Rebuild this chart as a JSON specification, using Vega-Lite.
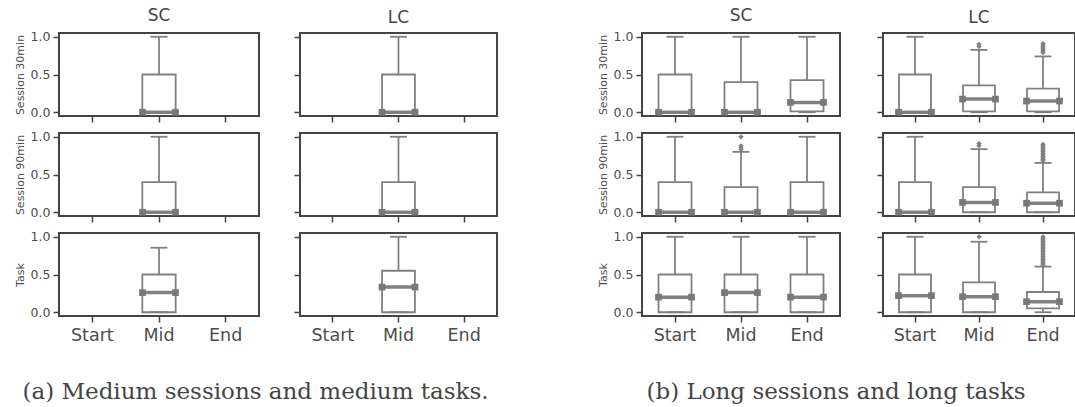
{
"$schema":"https://vega.github.io/schema/vega-lite/v6.json",
"padding":{"left":13,"top":5,"right":0,"bottom":0},
"data":{"values":[
{"p":"a-SC-1","pos":"Mid","lo":0,"q1":0,"med":0,"q3":0.5,"hi":1},
{"p":"a-LC-1","pos":"Mid","lo":0,"q1":0,"med":0,"q3":0.5,"hi":1},
{"p":"a-SC-2","pos":"Mid","lo":0,"q1":0,"med":0,"q3":0.4,"hi":1},
{"p":"a-LC-2","pos":"Mid","lo":0,"q1":0,"med":0,"q3":0.4,"hi":1},
{"p":"a-SC-3","pos":"Mid","lo":0,"q1":0,"med":0.26,"q3":0.5,"hi":0.855},
{"p":"a-LC-3","pos":"Mid","lo":0,"q1":0,"med":0.333,"q3":0.55,"hi":1},
{"p":"b-SC-1","pos":"Start","lo":0,"q1":0,"med":0,"q3":0.5,"hi":1},
{"p":"b-SC-1","pos":"Mid","lo":0,"q1":0,"med":0,"q3":0.4,"hi":1},
{"p":"b-SC-1","pos":"End","lo":0,"q1":0.01,"med":0.13,"q3":0.425,"hi":1},
{"p":"b-LC-1","pos":"Start","lo":0,"q1":0,"med":0,"q3":0.5,"hi":1},
{"p":"b-LC-1","pos":"Mid","lo":0,"q1":0.01,"med":0.174,"q3":0.357,"hi":0.826},
{"p":"b-LC-1","pos":"End","lo":0,"q1":0.01,"med":0.148,"q3":0.313,"hi":0.74},
{"p":"b-SC-2","pos":"Start","lo":0,"q1":0,"med":0,"q3":0.4,"hi":1},
{"p":"b-SC-2","pos":"Mid","lo":0,"q1":0,"med":0,"q3":0.333,"hi":0.8},
{"p":"b-SC-2","pos":"End","lo":0,"q1":0,"med":0,"q3":0.4,"hi":1},
{"p":"b-LC-2","pos":"Start","lo":0,"q1":0,"med":0,"q3":0.4,"hi":1},
{"p":"b-LC-2","pos":"Mid","lo":0,"q1":0,"med":0.13,"q3":0.333,"hi":0.836},
{"p":"b-LC-2","pos":"End","lo":0,"q1":0,"med":0.12,"q3":0.262,"hi":0.653},
{"p":"b-SC-3","pos":"Start","lo":0,"q1":0,"med":0.2,"q3":0.5,"hi":1},
{"p":"b-SC-3","pos":"Mid","lo":0,"q1":0,"med":0.26,"q3":0.5,"hi":1},
{"p":"b-SC-3","pos":"End","lo":0,"q1":0,"med":0.2,"q3":0.5,"hi":1},
{"p":"b-LC-3","pos":"Start","lo":0,"q1":0,"med":0.22,"q3":0.5,"hi":1},
{"p":"b-LC-3","pos":"Mid","lo":0,"q1":0,"med":0.206,"q3":0.395,"hi":0.934},
{"p":"b-LC-3","pos":"End","lo":0,"q1":0.05,"med":0.14,"q3":0.268,"hi":0.605},
{"p":"b-LC-1","pos":"Mid","v":0.87},{"p":"b-LC-1","pos":"Mid","v":0.9},
{"p":"b-LC-1","pos":"End","v":0.79},{"p":"b-LC-1","pos":"End","v":0.81},{"p":"b-LC-1","pos":"End","v":0.83},{"p":"b-LC-1","pos":"End","v":0.85},{"p":"b-LC-1","pos":"End","v":0.87},{"p":"b-LC-1","pos":"End","v":0.89},{"p":"b-LC-1","pos":"End","v":0.91},
{"p":"b-SC-2","pos":"Mid","v":0.83},{"p":"b-SC-2","pos":"Mid","v":0.86},{"p":"b-SC-2","pos":"Mid","v":0.88},{"p":"b-SC-2","pos":"Mid","v":1.0},
{"p":"b-LC-2","pos":"Mid","v":0.88},{"p":"b-LC-2","pos":"Mid","v":0.91},
{"p":"b-LC-2","pos":"End","v":0.68},{"p":"b-LC-2","pos":"End","v":0.7},{"p":"b-LC-2","pos":"End","v":0.72},{"p":"b-LC-2","pos":"End","v":0.74},{"p":"b-LC-2","pos":"End","v":0.76},{"p":"b-LC-2","pos":"End","v":0.78},{"p":"b-LC-2","pos":"End","v":0.8},{"p":"b-LC-2","pos":"End","v":0.82},{"p":"b-LC-2","pos":"End","v":0.84},{"p":"b-LC-2","pos":"End","v":0.86},{"p":"b-LC-2","pos":"End","v":0.88},{"p":"b-LC-2","pos":"End","v":0.9},
{"p":"b-LC-3","pos":"Mid","v":1.0},
{"p":"b-LC-3","pos":"End","v":0.62},{"p":"b-LC-3","pos":"End","v":0.64},{"p":"b-LC-3","pos":"End","v":0.66},{"p":"b-LC-3","pos":"End","v":0.68},{"p":"b-LC-3","pos":"End","v":0.7},{"p":"b-LC-3","pos":"End","v":0.72},{"p":"b-LC-3","pos":"End","v":0.74},{"p":"b-LC-3","pos":"End","v":0.76},{"p":"b-LC-3","pos":"End","v":0.78},{"p":"b-LC-3","pos":"End","v":0.8},{"p":"b-LC-3","pos":"End","v":0.82},{"p":"b-LC-3","pos":"End","v":0.84},{"p":"b-LC-3","pos":"End","v":0.86},{"p":"b-LC-3","pos":"End","v":0.88},{"p":"b-LC-3","pos":"End","v":0.9},{"p":"b-LC-3","pos":"End","v":0.92},{"p":"b-LC-3","pos":"End","v":0.94},{"p":"b-LC-3","pos":"End","v":0.96},{"p":"b-LC-3","pos":"End","v":0.98},{"p":"b-LC-3","pos":"End","v":1.0}
]},
"spacing":98,
"hconcat":[
{"columns":2,"spacing":{"row":5,"column":32},
"title":{"text":"(a) Medium sessions and medium tasks.","orient":"bottom","anchor":"middle","font":"DejaVu Serif","fontSize":23,"fontWeight":"normal","color":"#444","offset":36},
"concat":[
{"width":200,"height":83,"title":{"text":"SC","fontSize":17,"font":"DejaVu Sans","fontWeight":"normal","color":"#444","offset":6},"transform":[{"filter":"datum.p==='a-SC-1'"}],
"encoding":{"x":{"field":"pos","type":"nominal","sort":null,"title":null,"scale":{"type":"band","domain":["Start","Mid","End"],"paddingInner":0.5,"paddingOuter":0.25},"axis":{"labels":false}}},
"layer":[
{"mark":{"type":"rule","color":"#808080","strokeWidth":1.8},"encoding":{"y":{"field":"q3","type":"quantitative","scale":{"domain":[-0.05,1.05],"nice":false,"zero":false},"axis":{"values":[0,0.5,1],"format":".1f","title":"Session 30min"}},"y2":{"field":"hi"}}},
{"mark":{"type":"rule","color":"#808080","strokeWidth":1.8},"encoding":{"y":{"field":"lo","type":"quantitative","scale":{"domain":[-0.05,1.05],"nice":false,"zero":false}},"y2":{"field":"q1"}}},
{"mark":{"type":"bar","fill":"white","stroke":"#808080","strokeWidth":1.8},"encoding":{"y":{"field":"q1","type":"quantitative","scale":{"domain":[-0.05,1.05],"nice":false,"zero":false}},"y2":{"field":"q3"}}},
{"mark":{"type":"tick","color":"#808080","opacity":1,"size":17,"thickness":1.8},"encoding":{"y":{"field":"hi","type":"quantitative","scale":{"domain":[-0.05,1.05],"nice":false,"zero":false}}}},
{"mark":{"type":"tick","color":"#808080","opacity":1,"size":17,"thickness":1.8},"encoding":{"y":{"field":"lo","type":"quantitative","scale":{"domain":[-0.05,1.05],"nice":false,"zero":false}}}},
{"mark":{"type":"tick","color":"#808080","opacity":1,"size":33,"thickness":3.5},"encoding":{"y":{"field":"med","type":"quantitative","scale":{"domain":[-0.05,1.05],"nice":false,"zero":false}}}},
{"mark":{"type":"point","shape":"square","filled":true,"opacity":1,"size":45,"color":"#787878","xOffset":-16.5},"encoding":{"y":{"field":"med","type":"quantitative","scale":{"domain":[-0.05,1.05],"nice":false,"zero":false}}}},
{"mark":{"type":"point","shape":"square","filled":true,"opacity":1,"size":45,"color":"#787878","xOffset":16.5},"encoding":{"y":{"field":"med","type":"quantitative","scale":{"domain":[-0.05,1.05],"nice":false,"zero":false}}}},
{"mark":{"type":"point","shape":"diamond","filled":true,"opacity":1,"size":28,"color":"#808080"},"encoding":{"y":{"field":"v","type":"quantitative","scale":{"domain":[-0.05,1.05],"nice":false,"zero":false}}}}
]},
{"width":197,"height":83,"title":{"text":"LC","fontSize":17,"font":"DejaVu Sans","fontWeight":"normal","color":"#444","offset":6},"transform":[{"filter":"datum.p==='a-LC-1'"}],
"encoding":{"x":{"field":"pos","type":"nominal","sort":null,"title":null,"scale":{"type":"band","domain":["Start","Mid","End"],"paddingInner":0.5,"paddingOuter":0.25},"axis":{"labels":false}}},
"layer":[
{"mark":{"type":"rule","color":"#808080","strokeWidth":1.8},"encoding":{"y":{"field":"q3","type":"quantitative","scale":{"domain":[-0.05,1.05],"nice":false,"zero":false},"axis":{"values":[0,0.5,1],"labels":false,"title":null}},"y2":{"field":"hi"}}},
{"mark":{"type":"rule","color":"#808080","strokeWidth":1.8},"encoding":{"y":{"field":"lo","type":"quantitative","scale":{"domain":[-0.05,1.05],"nice":false,"zero":false}},"y2":{"field":"q1"}}},
{"mark":{"type":"bar","fill":"white","stroke":"#808080","strokeWidth":1.8},"encoding":{"y":{"field":"q1","type":"quantitative","scale":{"domain":[-0.05,1.05],"nice":false,"zero":false}},"y2":{"field":"q3"}}},
{"mark":{"type":"tick","color":"#808080","opacity":1,"size":17,"thickness":1.8},"encoding":{"y":{"field":"hi","type":"quantitative","scale":{"domain":[-0.05,1.05],"nice":false,"zero":false}}}},
{"mark":{"type":"tick","color":"#808080","opacity":1,"size":17,"thickness":1.8},"encoding":{"y":{"field":"lo","type":"quantitative","scale":{"domain":[-0.05,1.05],"nice":false,"zero":false}}}},
{"mark":{"type":"tick","color":"#808080","opacity":1,"size":33,"thickness":3.5},"encoding":{"y":{"field":"med","type":"quantitative","scale":{"domain":[-0.05,1.05],"nice":false,"zero":false}}}},
{"mark":{"type":"point","shape":"square","filled":true,"opacity":1,"size":45,"color":"#787878","xOffset":-16.5},"encoding":{"y":{"field":"med","type":"quantitative","scale":{"domain":[-0.05,1.05],"nice":false,"zero":false}}}},
{"mark":{"type":"point","shape":"square","filled":true,"opacity":1,"size":45,"color":"#787878","xOffset":16.5},"encoding":{"y":{"field":"med","type":"quantitative","scale":{"domain":[-0.05,1.05],"nice":false,"zero":false}}}},
{"mark":{"type":"point","shape":"diamond","filled":true,"opacity":1,"size":28,"color":"#808080"},"encoding":{"y":{"field":"v","type":"quantitative","scale":{"domain":[-0.05,1.05],"nice":false,"zero":false}}}}
]},
{"width":200,"height":83,"transform":[{"filter":"datum.p==='a-SC-2'"}],
"encoding":{"x":{"field":"pos","type":"nominal","sort":null,"title":null,"scale":{"type":"band","domain":["Start","Mid","End"],"paddingInner":0.5,"paddingOuter":0.25},"axis":{"labels":false}}},
"layer":[
{"mark":{"type":"rule","color":"#808080","strokeWidth":1.8},"encoding":{"y":{"field":"q3","type":"quantitative","scale":{"domain":[-0.05,1.05],"nice":false,"zero":false},"axis":{"values":[0,0.5,1],"format":".1f","title":"Session 90min"}},"y2":{"field":"hi"}}},
{"mark":{"type":"rule","color":"#808080","strokeWidth":1.8},"encoding":{"y":{"field":"lo","type":"quantitative","scale":{"domain":[-0.05,1.05],"nice":false,"zero":false}},"y2":{"field":"q1"}}},
{"mark":{"type":"bar","fill":"white","stroke":"#808080","strokeWidth":1.8},"encoding":{"y":{"field":"q1","type":"quantitative","scale":{"domain":[-0.05,1.05],"nice":false,"zero":false}},"y2":{"field":"q3"}}},
{"mark":{"type":"tick","color":"#808080","opacity":1,"size":17,"thickness":1.8},"encoding":{"y":{"field":"hi","type":"quantitative","scale":{"domain":[-0.05,1.05],"nice":false,"zero":false}}}},
{"mark":{"type":"tick","color":"#808080","opacity":1,"size":17,"thickness":1.8},"encoding":{"y":{"field":"lo","type":"quantitative","scale":{"domain":[-0.05,1.05],"nice":false,"zero":false}}}},
{"mark":{"type":"tick","color":"#808080","opacity":1,"size":33,"thickness":3.5},"encoding":{"y":{"field":"med","type":"quantitative","scale":{"domain":[-0.05,1.05],"nice":false,"zero":false}}}},
{"mark":{"type":"point","shape":"square","filled":true,"opacity":1,"size":45,"color":"#787878","xOffset":-16.5},"encoding":{"y":{"field":"med","type":"quantitative","scale":{"domain":[-0.05,1.05],"nice":false,"zero":false}}}},
{"mark":{"type":"point","shape":"square","filled":true,"opacity":1,"size":45,"color":"#787878","xOffset":16.5},"encoding":{"y":{"field":"med","type":"quantitative","scale":{"domain":[-0.05,1.05],"nice":false,"zero":false}}}},
{"mark":{"type":"point","shape":"diamond","filled":true,"opacity":1,"size":28,"color":"#808080"},"encoding":{"y":{"field":"v","type":"quantitative","scale":{"domain":[-0.05,1.05],"nice":false,"zero":false}}}}
]},
{"width":197,"height":83,"transform":[{"filter":"datum.p==='a-LC-2'"}],
"encoding":{"x":{"field":"pos","type":"nominal","sort":null,"title":null,"scale":{"type":"band","domain":["Start","Mid","End"],"paddingInner":0.5,"paddingOuter":0.25},"axis":{"labels":false}}},
"layer":[
{"mark":{"type":"rule","color":"#808080","strokeWidth":1.8},"encoding":{"y":{"field":"q3","type":"quantitative","scale":{"domain":[-0.05,1.05],"nice":false,"zero":false},"axis":{"values":[0,0.5,1],"labels":false,"title":null}},"y2":{"field":"hi"}}},
{"mark":{"type":"rule","color":"#808080","strokeWidth":1.8},"encoding":{"y":{"field":"lo","type":"quantitative","scale":{"domain":[-0.05,1.05],"nice":false,"zero":false}},"y2":{"field":"q1"}}},
{"mark":{"type":"bar","fill":"white","stroke":"#808080","strokeWidth":1.8},"encoding":{"y":{"field":"q1","type":"quantitative","scale":{"domain":[-0.05,1.05],"nice":false,"zero":false}},"y2":{"field":"q3"}}},
{"mark":{"type":"tick","color":"#808080","opacity":1,"size":17,"thickness":1.8},"encoding":{"y":{"field":"hi","type":"quantitative","scale":{"domain":[-0.05,1.05],"nice":false,"zero":false}}}},
{"mark":{"type":"tick","color":"#808080","opacity":1,"size":17,"thickness":1.8},"encoding":{"y":{"field":"lo","type":"quantitative","scale":{"domain":[-0.05,1.05],"nice":false,"zero":false}}}},
{"mark":{"type":"tick","color":"#808080","opacity":1,"size":33,"thickness":3.5},"encoding":{"y":{"field":"med","type":"quantitative","scale":{"domain":[-0.05,1.05],"nice":false,"zero":false}}}},
{"mark":{"type":"point","shape":"square","filled":true,"opacity":1,"size":45,"color":"#787878","xOffset":-16.5},"encoding":{"y":{"field":"med","type":"quantitative","scale":{"domain":[-0.05,1.05],"nice":false,"zero":false}}}},
{"mark":{"type":"point","shape":"square","filled":true,"opacity":1,"size":45,"color":"#787878","xOffset":16.5},"encoding":{"y":{"field":"med","type":"quantitative","scale":{"domain":[-0.05,1.05],"nice":false,"zero":false}}}},
{"mark":{"type":"point","shape":"diamond","filled":true,"opacity":1,"size":28,"color":"#808080"},"encoding":{"y":{"field":"v","type":"quantitative","scale":{"domain":[-0.05,1.05],"nice":false,"zero":false}}}}
]},
{"width":200,"height":83,"transform":[{"filter":"datum.p==='a-SC-3'"}],
"encoding":{"x":{"field":"pos","type":"nominal","sort":null,"title":null,"scale":{"type":"band","domain":["Start","Mid","End"],"paddingInner":0.5,"paddingOuter":0.25},"axis":{"labels":true}}},
"layer":[
{"mark":{"type":"rule","color":"#808080","strokeWidth":1.8},"encoding":{"y":{"field":"q3","type":"quantitative","scale":{"domain":[-0.05,1.05],"nice":false,"zero":false},"axis":{"values":[0,0.5,1],"format":".1f","title":"Task"}},"y2":{"field":"hi"}}},
{"mark":{"type":"rule","color":"#808080","strokeWidth":1.8},"encoding":{"y":{"field":"lo","type":"quantitative","scale":{"domain":[-0.05,1.05],"nice":false,"zero":false}},"y2":{"field":"q1"}}},
{"mark":{"type":"bar","fill":"white","stroke":"#808080","strokeWidth":1.8},"encoding":{"y":{"field":"q1","type":"quantitative","scale":{"domain":[-0.05,1.05],"nice":false,"zero":false}},"y2":{"field":"q3"}}},
{"mark":{"type":"tick","color":"#808080","opacity":1,"size":17,"thickness":1.8},"encoding":{"y":{"field":"hi","type":"quantitative","scale":{"domain":[-0.05,1.05],"nice":false,"zero":false}}}},
{"mark":{"type":"tick","color":"#808080","opacity":1,"size":17,"thickness":1.8},"encoding":{"y":{"field":"lo","type":"quantitative","scale":{"domain":[-0.05,1.05],"nice":false,"zero":false}}}},
{"mark":{"type":"tick","color":"#808080","opacity":1,"size":33,"thickness":3.5},"encoding":{"y":{"field":"med","type":"quantitative","scale":{"domain":[-0.05,1.05],"nice":false,"zero":false}}}},
{"mark":{"type":"point","shape":"square","filled":true,"opacity":1,"size":45,"color":"#787878","xOffset":-16.5},"encoding":{"y":{"field":"med","type":"quantitative","scale":{"domain":[-0.05,1.05],"nice":false,"zero":false}}}},
{"mark":{"type":"point","shape":"square","filled":true,"opacity":1,"size":45,"color":"#787878","xOffset":16.5},"encoding":{"y":{"field":"med","type":"quantitative","scale":{"domain":[-0.05,1.05],"nice":false,"zero":false}}}},
{"mark":{"type":"point","shape":"diamond","filled":true,"opacity":1,"size":28,"color":"#808080"},"encoding":{"y":{"field":"v","type":"quantitative","scale":{"domain":[-0.05,1.05],"nice":false,"zero":false}}}}
]},
{"width":197,"height":83,"transform":[{"filter":"datum.p==='a-LC-3'"}],
"encoding":{"x":{"field":"pos","type":"nominal","sort":null,"title":null,"scale":{"type":"band","domain":["Start","Mid","End"],"paddingInner":0.5,"paddingOuter":0.25},"axis":{"labels":true}}},
"layer":[
{"mark":{"type":"rule","color":"#808080","strokeWidth":1.8},"encoding":{"y":{"field":"q3","type":"quantitative","scale":{"domain":[-0.05,1.05],"nice":false,"zero":false},"axis":{"values":[0,0.5,1],"labels":false,"title":null}},"y2":{"field":"hi"}}},
{"mark":{"type":"rule","color":"#808080","strokeWidth":1.8},"encoding":{"y":{"field":"lo","type":"quantitative","scale":{"domain":[-0.05,1.05],"nice":false,"zero":false}},"y2":{"field":"q1"}}},
{"mark":{"type":"bar","fill":"white","stroke":"#808080","strokeWidth":1.8},"encoding":{"y":{"field":"q1","type":"quantitative","scale":{"domain":[-0.05,1.05],"nice":false,"zero":false}},"y2":{"field":"q3"}}},
{"mark":{"type":"tick","color":"#808080","opacity":1,"size":17,"thickness":1.8},"encoding":{"y":{"field":"hi","type":"quantitative","scale":{"domain":[-0.05,1.05],"nice":false,"zero":false}}}},
{"mark":{"type":"tick","color":"#808080","opacity":1,"size":17,"thickness":1.8},"encoding":{"y":{"field":"lo","type":"quantitative","scale":{"domain":[-0.05,1.05],"nice":false,"zero":false}}}},
{"mark":{"type":"tick","color":"#808080","opacity":1,"size":33,"thickness":3.5},"encoding":{"y":{"field":"med","type":"quantitative","scale":{"domain":[-0.05,1.05],"nice":false,"zero":false}}}},
{"mark":{"type":"point","shape":"square","filled":true,"opacity":1,"size":45,"color":"#787878","xOffset":-16.5},"encoding":{"y":{"field":"med","type":"quantitative","scale":{"domain":[-0.05,1.05],"nice":false,"zero":false}}}},
{"mark":{"type":"point","shape":"square","filled":true,"opacity":1,"size":45,"color":"#787878","xOffset":16.5},"encoding":{"y":{"field":"med","type":"quantitative","scale":{"domain":[-0.05,1.05],"nice":false,"zero":false}}}},
{"mark":{"type":"point","shape":"diamond","filled":true,"opacity":1,"size":28,"color":"#808080"},"encoding":{"y":{"field":"v","type":"quantitative","scale":{"domain":[-0.05,1.05],"nice":false,"zero":false}}}}
]}
]},
{"columns":2,"spacing":{"row":5,"column":34},
"title":{"text":"(b) Long sessions and long tasks","orient":"bottom","anchor":"middle","font":"DejaVu Serif","fontSize":23,"fontWeight":"normal","color":"#444","offset":36},
"concat":[
{"width":198,"height":83,"title":{"text":"SC","fontSize":17,"font":"DejaVu Sans","fontWeight":"normal","color":"#444","offset":6},"transform":[{"filter":"datum.p==='b-SC-1'"}],
"encoding":{"x":{"field":"pos","type":"nominal","sort":null,"title":null,"scale":{"type":"band","domain":["Start","Mid","End"],"paddingInner":0.5,"paddingOuter":0.25},"axis":{"labels":false}}},
"layer":[
{"mark":{"type":"rule","color":"#808080","strokeWidth":1.8},"encoding":{"y":{"field":"q3","type":"quantitative","scale":{"domain":[-0.05,1.05],"nice":false,"zero":false},"axis":{"values":[0,0.5,1],"format":".1f","title":"Session 30min"}},"y2":{"field":"hi"}}},
{"mark":{"type":"rule","color":"#808080","strokeWidth":1.8},"encoding":{"y":{"field":"lo","type":"quantitative","scale":{"domain":[-0.05,1.05],"nice":false,"zero":false}},"y2":{"field":"q1"}}},
{"mark":{"type":"bar","fill":"white","stroke":"#808080","strokeWidth":1.8},"encoding":{"y":{"field":"q1","type":"quantitative","scale":{"domain":[-0.05,1.05],"nice":false,"zero":false}},"y2":{"field":"q3"}}},
{"mark":{"type":"tick","color":"#808080","opacity":1,"size":17,"thickness":1.8},"encoding":{"y":{"field":"hi","type":"quantitative","scale":{"domain":[-0.05,1.05],"nice":false,"zero":false}}}},
{"mark":{"type":"tick","color":"#808080","opacity":1,"size":17,"thickness":1.8},"encoding":{"y":{"field":"lo","type":"quantitative","scale":{"domain":[-0.05,1.05],"nice":false,"zero":false}}}},
{"mark":{"type":"tick","color":"#808080","opacity":1,"size":33,"thickness":3.5},"encoding":{"y":{"field":"med","type":"quantitative","scale":{"domain":[-0.05,1.05],"nice":false,"zero":false}}}},
{"mark":{"type":"point","shape":"square","filled":true,"opacity":1,"size":45,"color":"#787878","xOffset":-16.5},"encoding":{"y":{"field":"med","type":"quantitative","scale":{"domain":[-0.05,1.05],"nice":false,"zero":false}}}},
{"mark":{"type":"point","shape":"square","filled":true,"opacity":1,"size":45,"color":"#787878","xOffset":16.5},"encoding":{"y":{"field":"med","type":"quantitative","scale":{"domain":[-0.05,1.05],"nice":false,"zero":false}}}},
{"mark":{"type":"point","shape":"diamond","filled":true,"opacity":1,"size":28,"color":"#808080"},"encoding":{"y":{"field":"v","type":"quantitative","scale":{"domain":[-0.05,1.05],"nice":false,"zero":false}}}}
]},
{"width":192,"height":83,"title":{"text":"LC","fontSize":17,"font":"DejaVu Sans","fontWeight":"normal","color":"#444","offset":6},"transform":[{"filter":"datum.p==='b-LC-1'"}],
"encoding":{"x":{"field":"pos","type":"nominal","sort":null,"title":null,"scale":{"type":"band","domain":["Start","Mid","End"],"paddingInner":0.5,"paddingOuter":0.25},"axis":{"labels":false}}},
"layer":[
{"mark":{"type":"rule","color":"#808080","strokeWidth":1.8},"encoding":{"y":{"field":"q3","type":"quantitative","scale":{"domain":[-0.05,1.05],"nice":false,"zero":false},"axis":{"values":[0,0.5,1],"labels":false,"title":null}},"y2":{"field":"hi"}}},
{"mark":{"type":"rule","color":"#808080","strokeWidth":1.8},"encoding":{"y":{"field":"lo","type":"quantitative","scale":{"domain":[-0.05,1.05],"nice":false,"zero":false}},"y2":{"field":"q1"}}},
{"mark":{"type":"bar","fill":"white","stroke":"#808080","strokeWidth":1.8},"encoding":{"y":{"field":"q1","type":"quantitative","scale":{"domain":[-0.05,1.05],"nice":false,"zero":false}},"y2":{"field":"q3"}}},
{"mark":{"type":"tick","color":"#808080","opacity":1,"size":17,"thickness":1.8},"encoding":{"y":{"field":"hi","type":"quantitative","scale":{"domain":[-0.05,1.05],"nice":false,"zero":false}}}},
{"mark":{"type":"tick","color":"#808080","opacity":1,"size":17,"thickness":1.8},"encoding":{"y":{"field":"lo","type":"quantitative","scale":{"domain":[-0.05,1.05],"nice":false,"zero":false}}}},
{"mark":{"type":"tick","color":"#808080","opacity":1,"size":33,"thickness":3.5},"encoding":{"y":{"field":"med","type":"quantitative","scale":{"domain":[-0.05,1.05],"nice":false,"zero":false}}}},
{"mark":{"type":"point","shape":"square","filled":true,"opacity":1,"size":45,"color":"#787878","xOffset":-16.5},"encoding":{"y":{"field":"med","type":"quantitative","scale":{"domain":[-0.05,1.05],"nice":false,"zero":false}}}},
{"mark":{"type":"point","shape":"square","filled":true,"opacity":1,"size":45,"color":"#787878","xOffset":16.5},"encoding":{"y":{"field":"med","type":"quantitative","scale":{"domain":[-0.05,1.05],"nice":false,"zero":false}}}},
{"mark":{"type":"point","shape":"diamond","filled":true,"opacity":1,"size":28,"color":"#808080"},"encoding":{"y":{"field":"v","type":"quantitative","scale":{"domain":[-0.05,1.05],"nice":false,"zero":false}}}}
]},
{"width":198,"height":83,"transform":[{"filter":"datum.p==='b-SC-2'"}],
"encoding":{"x":{"field":"pos","type":"nominal","sort":null,"title":null,"scale":{"type":"band","domain":["Start","Mid","End"],"paddingInner":0.5,"paddingOuter":0.25},"axis":{"labels":false}}},
"layer":[
{"mark":{"type":"rule","color":"#808080","strokeWidth":1.8},"encoding":{"y":{"field":"q3","type":"quantitative","scale":{"domain":[-0.05,1.05],"nice":false,"zero":false},"axis":{"values":[0,0.5,1],"format":".1f","title":"Session 90min"}},"y2":{"field":"hi"}}},
{"mark":{"type":"rule","color":"#808080","strokeWidth":1.8},"encoding":{"y":{"field":"lo","type":"quantitative","scale":{"domain":[-0.05,1.05],"nice":false,"zero":false}},"y2":{"field":"q1"}}},
{"mark":{"type":"bar","fill":"white","stroke":"#808080","strokeWidth":1.8},"encoding":{"y":{"field":"q1","type":"quantitative","scale":{"domain":[-0.05,1.05],"nice":false,"zero":false}},"y2":{"field":"q3"}}},
{"mark":{"type":"tick","color":"#808080","opacity":1,"size":17,"thickness":1.8},"encoding":{"y":{"field":"hi","type":"quantitative","scale":{"domain":[-0.05,1.05],"nice":false,"zero":false}}}},
{"mark":{"type":"tick","color":"#808080","opacity":1,"size":17,"thickness":1.8},"encoding":{"y":{"field":"lo","type":"quantitative","scale":{"domain":[-0.05,1.05],"nice":false,"zero":false}}}},
{"mark":{"type":"tick","color":"#808080","opacity":1,"size":33,"thickness":3.5},"encoding":{"y":{"field":"med","type":"quantitative","scale":{"domain":[-0.05,1.05],"nice":false,"zero":false}}}},
{"mark":{"type":"point","shape":"square","filled":true,"opacity":1,"size":45,"color":"#787878","xOffset":-16.5},"encoding":{"y":{"field":"med","type":"quantitative","scale":{"domain":[-0.05,1.05],"nice":false,"zero":false}}}},
{"mark":{"type":"point","shape":"square","filled":true,"opacity":1,"size":45,"color":"#787878","xOffset":16.5},"encoding":{"y":{"field":"med","type":"quantitative","scale":{"domain":[-0.05,1.05],"nice":false,"zero":false}}}},
{"mark":{"type":"point","shape":"diamond","filled":true,"opacity":1,"size":28,"color":"#808080"},"encoding":{"y":{"field":"v","type":"quantitative","scale":{"domain":[-0.05,1.05],"nice":false,"zero":false}}}}
]},
{"width":192,"height":83,"transform":[{"filter":"datum.p==='b-LC-2'"}],
"encoding":{"x":{"field":"pos","type":"nominal","sort":null,"title":null,"scale":{"type":"band","domain":["Start","Mid","End"],"paddingInner":0.5,"paddingOuter":0.25},"axis":{"labels":false}}},
"layer":[
{"mark":{"type":"rule","color":"#808080","strokeWidth":1.8},"encoding":{"y":{"field":"q3","type":"quantitative","scale":{"domain":[-0.05,1.05],"nice":false,"zero":false},"axis":{"values":[0,0.5,1],"labels":false,"title":null}},"y2":{"field":"hi"}}},
{"mark":{"type":"rule","color":"#808080","strokeWidth":1.8},"encoding":{"y":{"field":"lo","type":"quantitative","scale":{"domain":[-0.05,1.05],"nice":false,"zero":false}},"y2":{"field":"q1"}}},
{"mark":{"type":"bar","fill":"white","stroke":"#808080","strokeWidth":1.8},"encoding":{"y":{"field":"q1","type":"quantitative","scale":{"domain":[-0.05,1.05],"nice":false,"zero":false}},"y2":{"field":"q3"}}},
{"mark":{"type":"tick","color":"#808080","opacity":1,"size":17,"thickness":1.8},"encoding":{"y":{"field":"hi","type":"quantitative","scale":{"domain":[-0.05,1.05],"nice":false,"zero":false}}}},
{"mark":{"type":"tick","color":"#808080","opacity":1,"size":17,"thickness":1.8},"encoding":{"y":{"field":"lo","type":"quantitative","scale":{"domain":[-0.05,1.05],"nice":false,"zero":false}}}},
{"mark":{"type":"tick","color":"#808080","opacity":1,"size":33,"thickness":3.5},"encoding":{"y":{"field":"med","type":"quantitative","scale":{"domain":[-0.05,1.05],"nice":false,"zero":false}}}},
{"mark":{"type":"point","shape":"square","filled":true,"opacity":1,"size":45,"color":"#787878","xOffset":-16.5},"encoding":{"y":{"field":"med","type":"quantitative","scale":{"domain":[-0.05,1.05],"nice":false,"zero":false}}}},
{"mark":{"type":"point","shape":"square","filled":true,"opacity":1,"size":45,"color":"#787878","xOffset":16.5},"encoding":{"y":{"field":"med","type":"quantitative","scale":{"domain":[-0.05,1.05],"nice":false,"zero":false}}}},
{"mark":{"type":"point","shape":"diamond","filled":true,"opacity":1,"size":28,"color":"#808080"},"encoding":{"y":{"field":"v","type":"quantitative","scale":{"domain":[-0.05,1.05],"nice":false,"zero":false}}}}
]},
{"width":198,"height":83,"transform":[{"filter":"datum.p==='b-SC-3'"}],
"encoding":{"x":{"field":"pos","type":"nominal","sort":null,"title":null,"scale":{"type":"band","domain":["Start","Mid","End"],"paddingInner":0.5,"paddingOuter":0.25},"axis":{"labels":true}}},
"layer":[
{"mark":{"type":"rule","color":"#808080","strokeWidth":1.8},"encoding":{"y":{"field":"q3","type":"quantitative","scale":{"domain":[-0.05,1.05],"nice":false,"zero":false},"axis":{"values":[0,0.5,1],"format":".1f","title":"Task"}},"y2":{"field":"hi"}}},
{"mark":{"type":"rule","color":"#808080","strokeWidth":1.8},"encoding":{"y":{"field":"lo","type":"quantitative","scale":{"domain":[-0.05,1.05],"nice":false,"zero":false}},"y2":{"field":"q1"}}},
{"mark":{"type":"bar","fill":"white","stroke":"#808080","strokeWidth":1.8},"encoding":{"y":{"field":"q1","type":"quantitative","scale":{"domain":[-0.05,1.05],"nice":false,"zero":false}},"y2":{"field":"q3"}}},
{"mark":{"type":"tick","color":"#808080","opacity":1,"size":17,"thickness":1.8},"encoding":{"y":{"field":"hi","type":"quantitative","scale":{"domain":[-0.05,1.05],"nice":false,"zero":false}}}},
{"mark":{"type":"tick","color":"#808080","opacity":1,"size":17,"thickness":1.8},"encoding":{"y":{"field":"lo","type":"quantitative","scale":{"domain":[-0.05,1.05],"nice":false,"zero":false}}}},
{"mark":{"type":"tick","color":"#808080","opacity":1,"size":33,"thickness":3.5},"encoding":{"y":{"field":"med","type":"quantitative","scale":{"domain":[-0.05,1.05],"nice":false,"zero":false}}}},
{"mark":{"type":"point","shape":"square","filled":true,"opacity":1,"size":45,"color":"#787878","xOffset":-16.5},"encoding":{"y":{"field":"med","type":"quantitative","scale":{"domain":[-0.05,1.05],"nice":false,"zero":false}}}},
{"mark":{"type":"point","shape":"square","filled":true,"opacity":1,"size":45,"color":"#787878","xOffset":16.5},"encoding":{"y":{"field":"med","type":"quantitative","scale":{"domain":[-0.05,1.05],"nice":false,"zero":false}}}},
{"mark":{"type":"point","shape":"diamond","filled":true,"opacity":1,"size":28,"color":"#808080"},"encoding":{"y":{"field":"v","type":"quantitative","scale":{"domain":[-0.05,1.05],"nice":false,"zero":false}}}}
]},
{"width":192,"height":83,"transform":[{"filter":"datum.p==='b-LC-3'"}],
"encoding":{"x":{"field":"pos","type":"nominal","sort":null,"title":null,"scale":{"type":"band","domain":["Start","Mid","End"],"paddingInner":0.5,"paddingOuter":0.25},"axis":{"labels":true}}},
"layer":[
{"mark":{"type":"rule","color":"#808080","strokeWidth":1.8},"encoding":{"y":{"field":"q3","type":"quantitative","scale":{"domain":[-0.05,1.05],"nice":false,"zero":false},"axis":{"values":[0,0.5,1],"labels":false,"title":null}},"y2":{"field":"hi"}}},
{"mark":{"type":"rule","color":"#808080","strokeWidth":1.8},"encoding":{"y":{"field":"lo","type":"quantitative","scale":{"domain":[-0.05,1.05],"nice":false,"zero":false}},"y2":{"field":"q1"}}},
{"mark":{"type":"bar","fill":"white","stroke":"#808080","strokeWidth":1.8},"encoding":{"y":{"field":"q1","type":"quantitative","scale":{"domain":[-0.05,1.05],"nice":false,"zero":false}},"y2":{"field":"q3"}}},
{"mark":{"type":"tick","color":"#808080","opacity":1,"size":17,"thickness":1.8},"encoding":{"y":{"field":"hi","type":"quantitative","scale":{"domain":[-0.05,1.05],"nice":false,"zero":false}}}},
{"mark":{"type":"tick","color":"#808080","opacity":1,"size":17,"thickness":1.8},"encoding":{"y":{"field":"lo","type":"quantitative","scale":{"domain":[-0.05,1.05],"nice":false,"zero":false}}}},
{"mark":{"type":"tick","color":"#808080","opacity":1,"size":33,"thickness":3.5},"encoding":{"y":{"field":"med","type":"quantitative","scale":{"domain":[-0.05,1.05],"nice":false,"zero":false}}}},
{"mark":{"type":"point","shape":"square","filled":true,"opacity":1,"size":45,"color":"#787878","xOffset":-16.5},"encoding":{"y":{"field":"med","type":"quantitative","scale":{"domain":[-0.05,1.05],"nice":false,"zero":false}}}},
{"mark":{"type":"point","shape":"square","filled":true,"opacity":1,"size":45,"color":"#787878","xOffset":16.5},"encoding":{"y":{"field":"med","type":"quantitative","scale":{"domain":[-0.05,1.05],"nice":false,"zero":false}}}},
{"mark":{"type":"point","shape":"diamond","filled":true,"opacity":1,"size":28,"color":"#808080"},"encoding":{"y":{"field":"v","type":"quantitative","scale":{"domain":[-0.05,1.05],"nice":false,"zero":false}}}}
]}
]}
],
"config":{
"view":{"stroke":"#444","strokeWidth":2},
"axis":{"domain":false,"grid":false,"ticks":true,"tickColor":"#444","tickWidth":1.5,"tickSize":6,"labelColor":"#4d4d4d","labelFont":"DejaVu Sans","titleFont":"DejaVu Sans","titleColor":"#4d4d4d","titleFontWeight":"normal","labelPadding":3},
"axisY":{"labelFontSize":12.5,"titleFontSize":11,"titlePadding":5},
"axisX":{"labelFontSize":17.5,"labelAngle":0,"labelPadding":4}
}
}
